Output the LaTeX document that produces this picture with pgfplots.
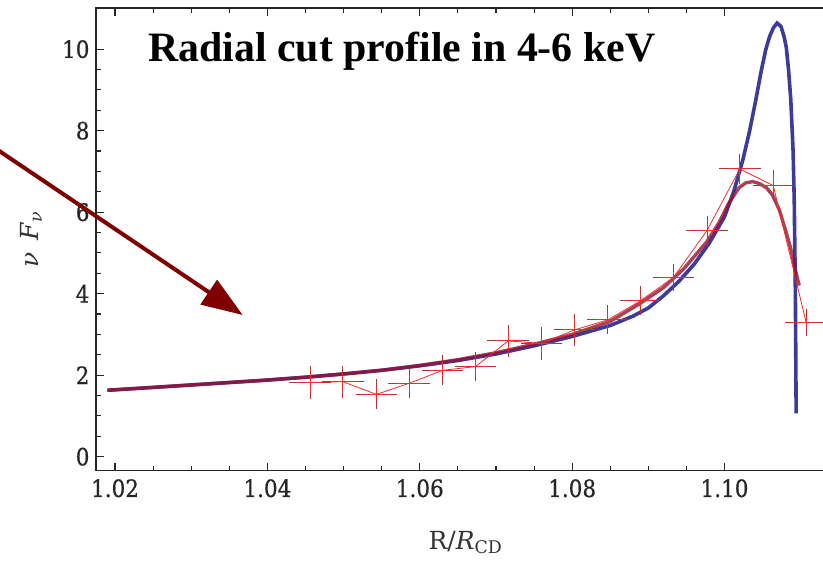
\documentclass[border=0pt]{standalone}
\usepackage{fontspec}
\setmainfont{Liberation Serif}
\newfontfamily\tickfont[FakeStretch=0.9,FakeBold=0.6]{DejaVu Serif}
\newfontfamily\labfont{DejaVu Serif}
\usepackage{pgfplots}
\pgfplotsset{compat=1.18}
\usepackage{pgfplotstable}
\usetikzlibrary{arrows.meta}
\definecolor{cblue}{HTML}{3C3C98}
\definecolor{cred}{HTML}{981030}
\definecolor{dred}{HTML}{F52A2A}
\definecolor{capred}{HTML}{A83838}
\definecolor{arrowred}{HTML}{800000}

\pgfplotstableread{
x y ex ey
1.0456 1.82 0.0022 0.30
1.0499 1.84 0.0022 0.29
1.0543 1.53 0.0022 0.27
1.0586 1.80 0.0022 0.27
1.0630 2.12 0.0022 0.27
1.0673 2.21 0.0022 0.25
1.0716 2.84 0.0022 0.29
1.0760 2.78 0.0022 0.30
1.0803 3.11 0.0022 0.29
1.0847 3.36 0.0022 0.26
1.0890 3.83 0.0022 0.25
1.0933 4.40 0.0022 0.24
1.0977 5.55 0.0022 0.27
1.1020 7.06 0.0022 0.28
1.1064 6.65 0.0022 0.28
1.1107 3.30 0.0022 0.23
}\datatable

\pgfplotstableread{
x y
1.0190 1.63
1.0250 1.70
1.0300 1.76
1.0350 1.82
1.0400 1.88
1.0450 1.95
1.0500 2.03
1.0550 2.12
1.0600 2.23
1.0650 2.36
1.0700 2.52
1.0750 2.72
1.0800 2.95
1.0850 3.22
1.0880 3.45
1.0900 3.65
1.0920 3.95
1.0940 4.30
1.0960 4.72
1.0980 5.24
1.1000 5.89
1.1012 6.50
1.1024 7.28
1.1033 8.00
1.1041 8.75
1.1048 9.45
1.1054 9.98
1.1059 10.30
1.1064 10.52
1.1069 10.64
1.1074 10.56
1.1078 10.32
1.1081 10.05
1.1084 9.50
1.1087 8.75
1.1090 7.50
1.10915 6.30
1.1093 4.00
1.1094 1.06
}\bluetable

\pgfplotstableread{
x y
1.0190 1.63
1.0250 1.70
1.0300 1.76
1.0350 1.82
1.0400 1.88
1.0450 1.95
1.0500 2.03
1.0550 2.12
1.0600 2.24
1.0650 2.38
1.0700 2.55
1.0750 2.76
1.0800 3.00
1.0850 3.32
1.0890 3.77
1.0920 4.15
1.0947 4.62
1.0977 5.28
1.0993 5.75
1.1005 6.20
1.1019 6.60
1.1028 6.72
1.1037 6.75
1.1046 6.70
1.1055 6.60
1.1063 6.42
1.1072 6.05
1.1080 5.56
1.1087 5.10
1.1092 4.66
1.1098 4.20
}\redtable

\begin{document}
\begin{tikzpicture}
\useasboundingbox (-96bp,-90.3bp) rectangle (727bp,470.7bp);
\clip (-96bp,-90.3bp) rectangle (727bp,470.7bp);
\begin{axis}[
  at={(0bp,0bp)}, anchor=south west,
  scale only axis, width=739bp, height=462.7bp,
  xmin=1.0175, xmax=1.1145, ymin=-0.344, ymax=11.01,
  axis line style={line width=1.3bp, black!85},
  xtick={1.02,1.04,1.06,1.08,1.10},
  minor x tick num=3,
  ytick={0,2,4,6,8,10}, minor y tick num=3,
  tick align=inside,
  major tick length=8bp, minor tick length=5bp,
  tick style={line width=1.1bp, black!85},
  /pgf/number format/assume math mode=true,
  xticklabel={\pgfmathprintnumber[fixed,fixed zerofill,precision=2,assume math mode=true]{\tick}},
  yticklabel={\pgfmathprintnumber[fixed,precision=0,assume math mode=true]{\tick}},
  xticklabel style={yshift=-5bp},
  yticklabel style={xshift=-3bp},
  ticklabel style={font=\tickfont\fontsize{24}{24}\selectfont, text=black!85},
  xlabel={R/\textit{R}\textsubscript{CD}},
  xlabel style={at={(axis description cs:0.5,-0.170)}, anchor=base, font=\labfont\fontsize{25}{25}\selectfont, text=black!80},
  ylabel={\textit{ν}\, \textit{F}\textsubscript{\textit{ν}}},
  ylabel style={at={(axis description cs:-0.088,0.5)}, anchor=center, font=\labfont\fontsize{25}{25}\selectfont, text=black!80},
]
\addplot[cblue, line width=3.6bp, no markers] table[x=x,y=y] {\bluetable};
\addplot[cred, line width=3.4bp, opacity=0.8, no markers] table[x=x,y=y] {\redtable};
\addplot[dred, line width=0.8bp, no markers,
  error bars/.cd, x dir=both, x explicit, y dir=both, y explicit,
  error bar style={line width=1bp, dred},
  error mark options={capred, line width=1bp, mark size=4bp}]
  table[x=x, y=y, x error=ex, y error=ey] {\datatable};
\end{axis}
\node[anchor=base west, inner sep=0pt, font=\fontsize{42}{42}\selectfont\bfseries] at (52bp,408.7bp) {Radial cut profile in 4-6 keV};
\draw[arrowred, line width=4bp, -{Triangle[length=41bp,width=29bp]}] (-116bp,332.7bp) -- (146.7bp,155.7bp);
\end{tikzpicture}
\end{document}
